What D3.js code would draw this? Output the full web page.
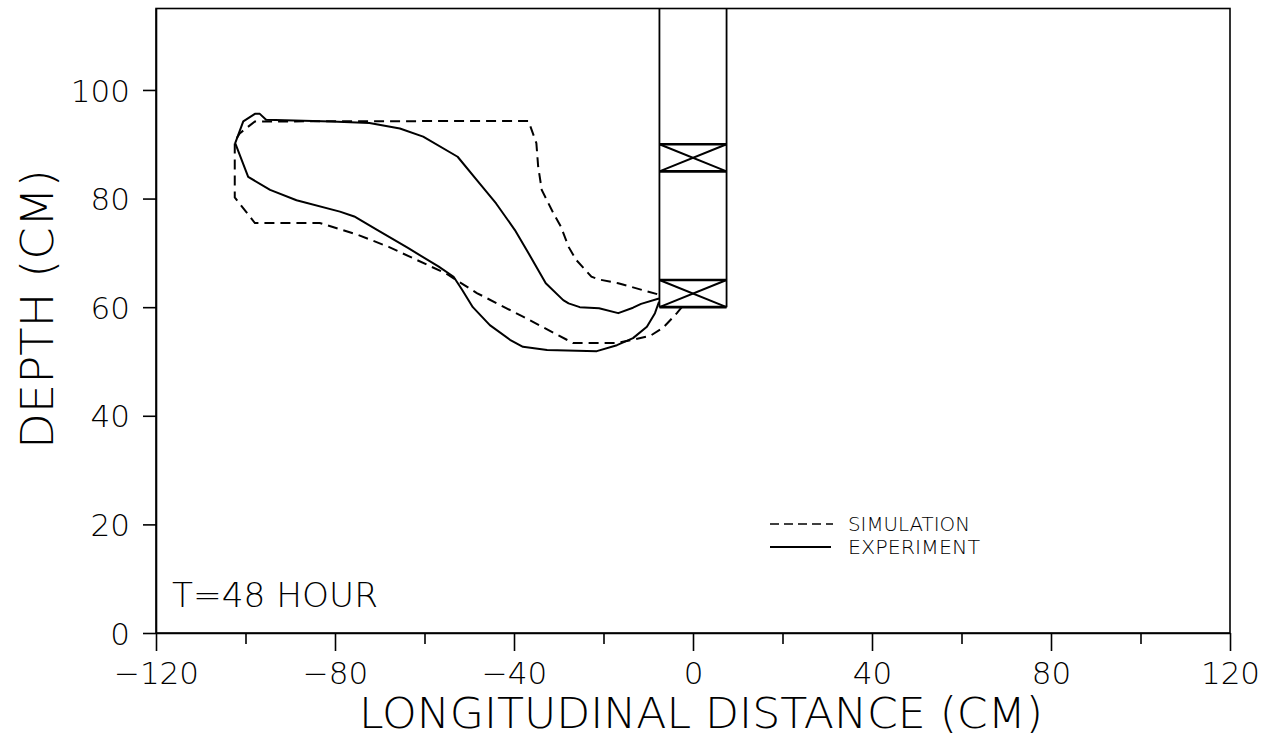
<!DOCTYPE html>
<html>
<head>
<meta charset="utf-8">
<script src="https://cdn.jsdelivr.net/npm/d3@7"></script>
<style>
  html, body { margin: 0; padding: 0; background: #fff; }
  svg { display: block; }
  text { font-family: "DejaVu Sans", "Liberation Sans", sans-serif; font-weight: 200; fill: #000; }
</style>
</head>
<body>
<svg id="chart" width="1269" height="742"></svg>
<script>
// Wetting front outlines, longitudinal distance (cm) vs depth (cm)
const simulationX = [-8, -16.7, -21, -22.7, -26.1, -27.8, -29.5, -31.2, -33.8, -34.6, -35, -36.3, -36.8,
  -97.9, -101.3, -102.4, -102.4, -97.9, -83.4, -74.8, -68, -55.2, -48.3, -38.1, -28.2, -26.8,
  -17, -9.6, -6.7, -3.6, -2.5];
const simulationY = [62.4, 64.4, 65.1, 65.6, 68.7, 71.1, 74.8, 77.3, 81.6, 85.9, 90.2, 93.2, 94.3,
  94.2, 92, 90.5, 80.2, 75.5, 75.5, 73.3, 71.1, 66.2, 62.6, 58.3, 54, 53.4,
  53.4, 54.7, 56.2, 58.9, 60];

const experimentX = [-7.6, -11.6, -13.4, -16.7, -21, -25.3, -27.8, -29, -32.9, -36.3, -39.8, -44, -48.3,
  -52.6, -60.3, -65.5, -72.3, -80.8, -95.4, -96.8, -97.9, -100.5, -102.3, -99.4, -94.5, -88.6,
  -78.9, -75.7, -70.5, -63.7, -56.9, -53.5, -51.6, -49.2, -45.4, -40.9, -38, -32.6, -21.5,
  -17, -13.4, -10.3, -8.5, -7.6];
const experimentY = [61.6, 60.6, 59.9, 58.9, 59.8, 60.0, 60.7, 61.3, 64.4, 69.3, 74.2, 79.1, 83.4,
  87.7, 91.4, 92.9, 93.9, 94.2, 94.5, 95.6, 95.6, 94.2, 90.2, 84, 81.6, 79.7,
  77.6, 76.7, 74.2, 70.9, 67.5, 65.6, 63.2, 60, 56.7, 54, 52.7, 52.1, 51.9,
  53, 54.3, 56.4, 58.9, 61];

// Well: side walls, bottom, and the two screened bands
const wellSides = [-7.5, 7.5];
const wellBottom = 60;
const wellTop = 115;
const wellBands = [[85, 90], [60, 65]];

// Axes
const xDomain = [-120, 120];
const yDomain = [0, 115];
const xTicks = [-120, -100, -80, -60, -40, -20, 0, 20, 40, 60, 80, 100, 120];
const xLabelTicks = [-120, -80, -40, 0, 40, 80, 120];
const yTicks = [0, 20, 40, 60, 80, 100];

const timeLabel = "T=48 HOUR";
const xTitle = "LONGITUDINAL DISTANCE (CM)";
const yTitle = "DEPTH (CM)";
const legendNames = ["SIMULATION", "EXPERIMENT"];

const svg = d3.select("#chart");
const x = d3.scaleLinear().domain(xDomain).range([156, 1230]);
const y = d3.scaleLinear().domain(yDomain).range([633, 8.5]);

// Frame
svg.append("rect")
  .attr("x", x(xDomain[0])).attr("y", y(yDomain[1]))
  .attr("width", x(xDomain[1]) - x(xDomain[0]))
  .attr("height", y(yDomain[0]) - y(yDomain[1]))
  .attr("fill", "none").attr("stroke", "#000").attr("stroke-width", 1.6);

// Left axis
const yAxis = svg.append("g")
  .attr("transform", `translate(${x(xDomain[0])},0)`)
  .call(d3.axisLeft(y).tickValues(yTicks).tickSize(13).tickSizeOuter(0).tickPadding(13).tickFormat(d3.format("d")));
yAxis.select(".domain").attr("stroke-width", 1.6);
yAxis.selectAll(".tick line").attr("stroke-width", 1.6);
yAxis.selectAll(".tick text").attr("font-size", 31).attr("dy", "0.36em")
  .style("font-family", '"DejaVu Sans", sans-serif').style("font-weight", 200);

// Bottom axis
const xAxis = svg.append("g")
  .attr("transform", `translate(0,${y(yDomain[0])})`)
  .call(d3.axisBottom(x).tickValues(xTicks).tickSizeOuter(0)
    .tickFormat(d => xLabelTicks.includes(d) ? d3.format("d")(d) : ""));
xAxis.select(".domain").attr("stroke-width", 1.6);
xAxis.selectAll(".tick line")
  .attr("y2", d => xLabelTicks.includes(d) ? 18 : 11)
  .attr("stroke-width", 1.6);
xAxis.selectAll(".tick text").attr("font-size", 31).attr("y", 29).attr("dy", "0.71em")
  .style("font-family", '"DejaVu Sans", sans-serif').style("font-weight", 200);

// Well
const well = svg.append("g").attr("fill", "none").attr("stroke", "#000");
wellSides.forEach(s => {
  well.append("line")
    .attr("x1", x(s)).attr("x2", x(s))
    .attr("y1", y(wellTop)).attr("y2", y(wellBottom))
    .attr("stroke-width", 1.8);
});
wellBands.forEach(([lo, hi]) => {
  [lo, hi].forEach(v => {
    well.append("line")
      .attr("x1", x(wellSides[0])).attr("x2", x(wellSides[1]))
      .attr("y1", y(v)).attr("y2", y(v))
      .attr("stroke-width", 2.6);
  });
  well.append("line")
    .attr("x1", x(wellSides[0])).attr("y1", y(hi))
    .attr("x2", x(wellSides[1])).attr("y2", y(lo))
    .attr("stroke-width", 2);
  well.append("line")
    .attr("x1", x(wellSides[0])).attr("y1", y(lo))
    .attr("x2", x(wellSides[1])).attr("y2", y(hi))
    .attr("stroke-width", 2);
});

// Outlines
const line = d3.line().x(d => x(d[0])).y(d => y(d[1]));
const simulation = d3.zip(simulationX, simulationY);
const experiment = d3.zip(experimentX, experimentY);

svg.append("path").datum(simulation)
  .attr("d", line).attr("fill", "none").attr("stroke", "#000")
  .attr("stroke-width", 2).attr("stroke-dasharray", "10,6");
svg.append("path").datum(experiment)
  .attr("d", line).attr("fill", "none").attr("stroke", "#000")
  .attr("stroke-width", 2).attr("stroke-linejoin", "round");

// Time stamp
svg.append("text").attr("x", 172).attr("y", 607)
  .attr("font-size", 33).attr("textLength", 206).attr("lengthAdjust", "spacingAndGlyphs")
  .text(timeLabel);

// Legend
const legend = svg.append("g");
legend.append("line").attr("x1", 770).attr("x2", 833).attr("y1", 524).attr("y2", 524)
  .attr("stroke", "#000").attr("stroke-width", 1.6).attr("stroke-dasharray", "9,5");
legend.append("line").attr("x1", 770).attr("x2", 831).attr("y1", 547).attr("y2", 547)
  .attr("stroke", "#000").attr("stroke-width", 1.8);
legend.append("text").attr("x", 848).attr("y", 531).attr("font-size", 19)
  .attr("textLength", 122).attr("lengthAdjust", "spacingAndGlyphs").text(legendNames[0]);
legend.append("text").attr("x", 848).attr("y", 554).attr("font-size", 19)
  .attr("textLength", 132).attr("lengthAdjust", "spacingAndGlyphs").text(legendNames[1]);

// Axis titles
svg.append("text").attr("x", 359).attr("y", 728).attr("font-size", 42.5)
  .attr("textLength", 684).attr("lengthAdjust", "spacingAndGlyphs").text(xTitle);
svg.append("text").attr("transform", "translate(53,309) rotate(-90)")
  .attr("text-anchor", "middle").attr("font-size", 45)
  .attr("textLength", 280).attr("lengthAdjust", "spacingAndGlyphs").text(yTitle);
</script>
</body>
</html>
